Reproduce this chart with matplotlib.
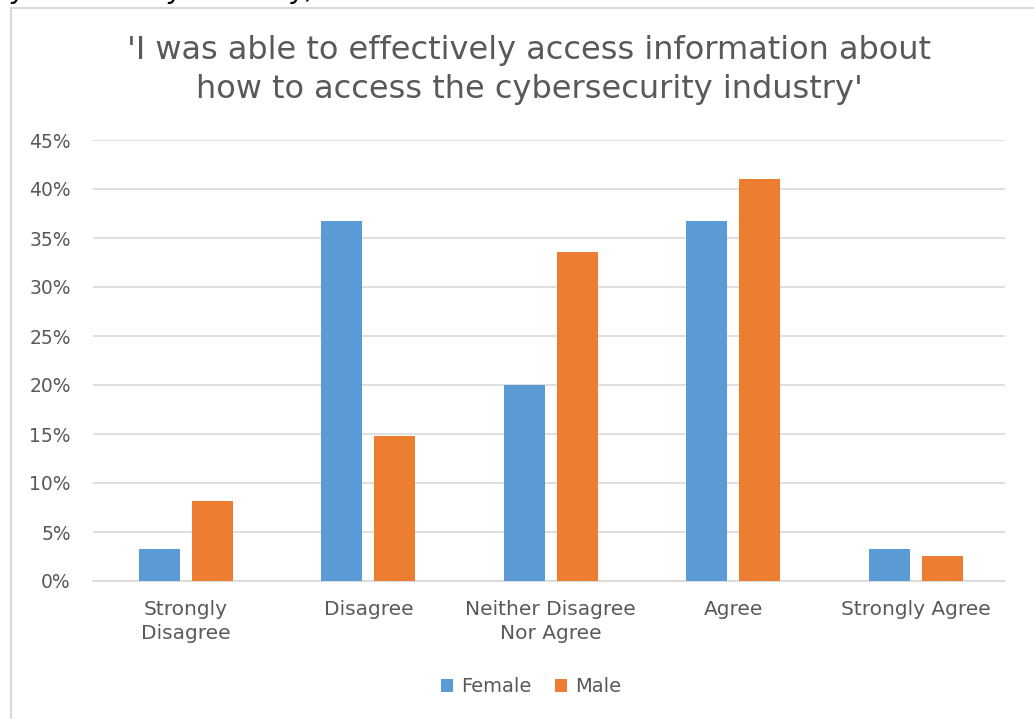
import matplotlib

matplotlib.use("Agg")
import matplotlib.pyplot as plt
import numpy as np
from matplotlib.patches import Rectangle
from matplotlib.ticker import PercentFormatter

categories = ["Strongly\nDisagree", "Disagree", "Neither Disagree\nNor Agree", "Agree", "Strongly Agree"]
female = [3.3, 36.7, 20.0, 36.7, 3.3]
male = [8.2, 14.8, 33.6, 41.0, 2.6]
series_names = ["Female", "Male"]
y_ticks = [0, 5, 10, 15, 20, 25, 30, 35, 40, 45]

BLUE = "#5B9BD5"
ORANGE = "#ED7D31"
TEXT = "#595959"
GRID = "#D9D9D9"

plt.rcParams["font.family"] = ["DejaVu Sans"]

W, H = 1034, 719
fig = plt.figure(figsize=(W / 100, H / 100), dpi=100)

# chart frame (partially off the page on the right / bottom)
fig.patches.append(
    Rectangle((11 / W, -0.05), 1.1, 1 - 8 / H + 0.05, transform=fig.transFigure,
              facecolor="white", edgecolor=GRID, linewidth=1.5, zorder=-5)
)
# caption text cut off at the top of the screenshot
fig.text(-0.004, 1 + 1.5 / H, "cybersecurity industry)", fontsize=20, style="italic",
         color="black", va="baseline", ha="left")

ax = fig.add_axes([93 / W, 1 - 581 / H, (1005 - 93) / W, (581 - 140) / H])
ax.set_facecolor("none")
ax.set_zorder(2)

x = np.arange(len(categories))
bw = 0.225
off = 0.145
ax.bar(x - off, female, width=bw, color=BLUE, label=series_names[0], zorder=3)
ax.bar(x + off, male, width=bw, color=ORANGE, label=series_names[1], zorder=3)

ax.set_xlim(-0.51, len(categories) - 0.51)
ax.set_ylim(0, 45)
ax.set_yticks(y_ticks)
ax.yaxis.set_major_formatter(PercentFormatter(decimals=0))
ax.grid(axis="y", color=GRID, linewidth=1.2, zorder=0)
ax.set_axisbelow(True)
for side in ["top", "right", "left"]:
    ax.spines[side].set_visible(False)
ax.spines["bottom"].set_color(GRID)
ax.spines["bottom"].set_linewidth(1.2)

ax.set_xticks(x)
ax.set_xticklabels(categories, fontsize=14.5, color=TEXT, linespacing=1.3)
ax.tick_params(axis="x", length=0, pad=14)
ax.tick_params(axis="y", length=0, pad=16, labelsize=13.5, labelcolor=TEXT)

fig.text(529 / W, 1 - 70 / H,
         "'I was able to effectively access information about\nhow to access the cybersecurity industry'",
         ha="center", va="center", fontsize=23, color=TEXT, linespacing=1.35)

ax.legend(loc="center", bbox_to_anchor=(531 / W, 1 - 687 / H), bbox_transform=fig.transFigure,
          ncol=2, frameon=False, fontsize=14, labelcolor=TEXT,
          handlelength=0.65, handleheight=0.65, handletextpad=0.4, columnspacing=1.2)

fig.savefig("out.png", dpi=100)
